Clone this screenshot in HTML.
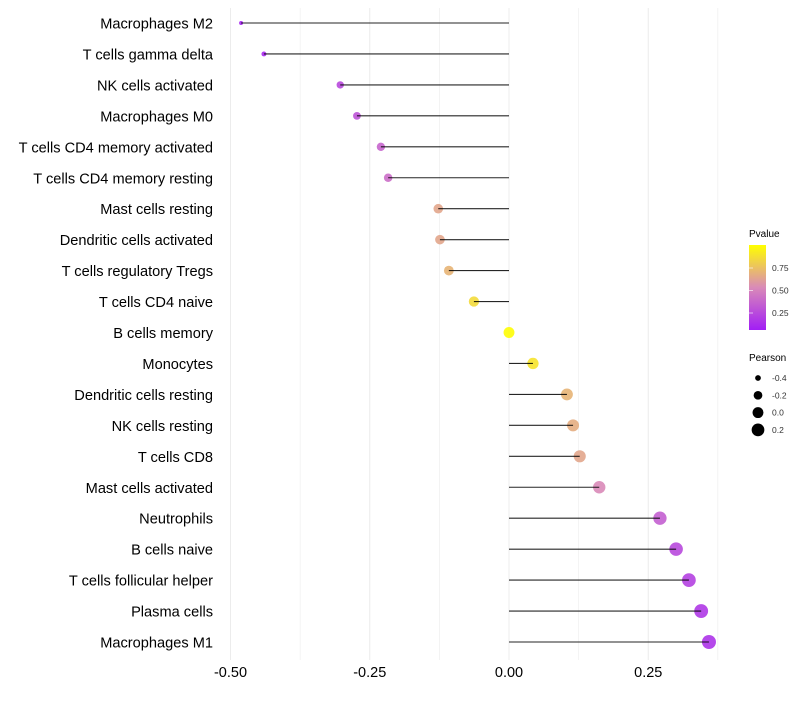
<!DOCTYPE html>
<html><head><meta charset="utf-8"><style>
body{margin:0;background:#fff;font-family:"Liberation Sans",Arial,sans-serif}
svg text{font-family:"Liberation Sans",Arial,sans-serif}
</style></head><body>
<svg id="c" width="800" height="700">
<defs><linearGradient id="pg" x1="0" y1="1" x2="0" y2="0">
<stop offset="0" stop-color="#A21EF5"/><stop offset="0.5" stop-color="#D98AB8"/><stop offset="1" stop-color="#FFFF00"/>
</linearGradient></defs>
<g id="grid"></g><g id="marks"></g><g id="labels"></g><g id="legend"></g>
</svg>
<script>
const categories=["Macrophages M2","T cells gamma delta","NK cells activated","Macrophages M0","T cells CD4 memory activated","T cells CD4 memory resting","Mast cells resting","Dendritic cells activated","T cells regulatory  Tregs ","T cells CD4 naive","B cells memory","Monocytes","Dendritic cells resting","NK cells resting","T cells CD8","Mast cells activated","Neutrophils","B cells naive","T cells follicular helper","Plasma cells","Macrophages M1"];
const pearson=[-0.481,-0.44,-0.303,-0.273,-0.23,-0.217,-0.127,-0.124,-0.108,-0.063,0.0,0.043,0.104,0.115,0.127,0.162,0.271,0.3,0.323,0.345,0.359];
const pvalue=[0.03,0.05,0.2,0.25,0.33,0.37,0.62,0.62,0.68,0.84,0.99,0.88,0.68,0.65,0.62,0.5,0.3,0.2,0.16,0.12,0.1];
const xTicks=[-0.5,-0.25,0,0.25];
const xTickLabels=["-0.50","-0.25","0.00","0.25"];
const sizeLegend=[-0.4,-0.2,0.0,0.2];
const pTicks=[0.25,0.5,0.75];

const NS="http://www.w3.org/2000/svg";
const X=v=>509+v*557;
const Y=i=>23+i*30.95;
const R=v=>Math.sqrt(Math.max(1,4+53.6*(v+0.48)));
function lerp(a,b,t){return a.map((x,i)=>Math.round(x+(b[i]-x)*t));}
function col(p){const c0=[162,30,245],c1=[217,138,184],c2=[255,255,0];
 const c=p<0.5?lerp(c0,c1,p/0.5):lerp(c1,c2,(p-0.5)/0.5);return `rgb(${c})`;}
function mk(tag,attrs,parent){const e=document.createElementNS(NS,tag);for(const k in attrs)e.setAttribute(k,attrs[k]);parent.appendChild(e);return e;}
const grid=document.getElementById('grid'),marks=document.getElementById('marks'),labels=document.getElementById('labels'),legend=document.getElementById('legend');
for(let v=-0.5;v<=0.376;v+=0.125){const g=mk('line',{x1:X(v),x2:X(v),y1:8,y2:660,stroke:'#ececec','stroke-width':Math.abs(v*4-Math.round(v*4))<1e-6?1:0.6},grid);

}
xTicks.forEach((v,i)=>{const t=mk('text',{x:X(v),y:677,'text-anchor':'middle','font-size':14.5,fill:'#000'},labels);t.textContent=xTickLabels[i];

});
categories.forEach((c,i)=>{const t=mk('text',{x:213,y:Y(i)+5.5,'text-anchor':'end','font-size':14.6,fill:'#000'},labels);t.textContent=c;


const v=pearson[i];
const ci=mk('circle',{cx:X(v),cy:Y(i),r:R(v),fill:col(pvalue[i]),'fill-opacity':0.9},marks);


const l=mk('line',{x1:X(0),x2:X(v),y1:Y(i),y2:Y(i),stroke:'#000','stroke-width':1.1,'stroke-opacity':0.85},marks);

});
let t=mk('text',{x:749,y:237,'font-size':10},legend);t.textContent='Pvalue';


const bar=mk('rect',{x:749,y:245,width:17,height:85,fill:'url(#pg)'},legend);


pTicks.forEach(p=>{const y=335.5-p*90;
const tl=mk('line',{x1:749,x2:753,y1:y,y2:y,stroke:'#fff','stroke-opacity':0.6},legend);


const tt=mk('text',{x:772,y:y+3,'font-size':8.5,fill:'#333'},legend);tt.textContent=p.toFixed(2);

});
t=mk('text',{x:749,y:361,'font-size':10},legend);t.textContent='Pearson';


sizeLegend.forEach((v,i)=>{const y=378+i*17.3;
const c=mk('circle',{cx:758,cy:y,r:R(v),fill:'#000'},legend);


const tt=mk('text',{x:772,y:y+3,'font-size':8.5,fill:'#333'},legend);tt.textContent=v.toFixed(1);

});
</script>
</body></html>
